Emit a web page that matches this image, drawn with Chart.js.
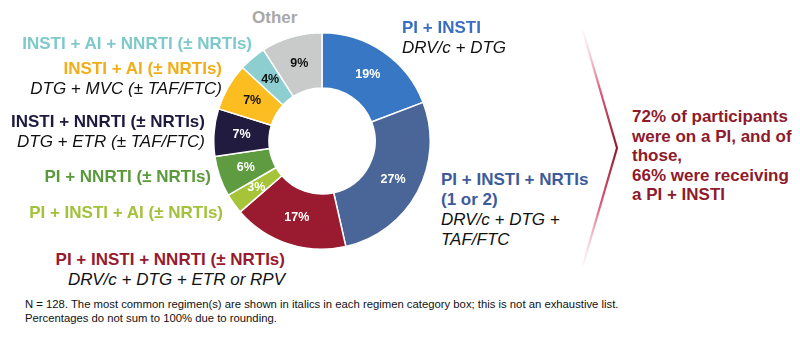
<!DOCTYPE html>
<html>
<head>
<meta charset="utf-8">
<script src="https://cdn.jsdelivr.net/npm/chart.js"></script>
<style>
    body { margin: 0; background: #fff; font-family: "Liberation Sans", Arial, sans-serif; }
    #stage { position: relative; width: 800px; height: 338px; overflow: hidden; }
    #donutBox { position: absolute; left: 213px; top: 32px; width: 218px; height: 218px; }
    .lbl { position: absolute; font-size: 17px; line-height: 20px; white-space: nowrap; }
    .lbl b { font-weight: bold; }
    .lbl i { color: #111; font-style: italic; }
    .r { text-align: right; }
    #note { position: absolute; left: 25px; top: 297px; font-size: 11.3px; line-height: 14px; color: #111; white-space: nowrap; }
    #summary { position: absolute; left: 632px; top: 107px; font-size: 17px; line-height: 19.5px; font-weight: bold; color: #8e1a2b; }
    #chevron { position: absolute; left: 0; top: 0; }
</style>
</head>
<body>
<div id="stage">
    <svg id="chevron" width="800" height="338">
        <defs>
            <linearGradient id="chevGrad" x1="0" y1="30" x2="0" y2="266" gradientUnits="userSpaceOnUse">
                <stop offset="0" stop-color="#f7c6d3" stop-opacity="0.15"/>
                <stop offset="0.25" stop-color="#e0607f"/>
                <stop offset="0.5" stop-color="#8e1a2b"/>
                <stop offset="0.75" stop-color="#e0607f"/>
                <stop offset="1" stop-color="#f7c6d3" stop-opacity="0.15"/>
            </linearGradient>
        </defs>
        <polyline points="583,31 617,148 583,265" fill="none" stroke="url(#chevGrad)" stroke-width="2.2"/>
    </svg>

    <div id="donutBox"><canvas id="regimenChart"></canvas></div>

    <div class="lbl" style="left:252px; top:8px; color:#a8a8a8;"><b>Other</b></div>
    <div class="lbl" style="left:402px; top:18px; color:#3a6fc0;"><b>PI + INSTI</b><br><i>DRV/c + DTG</i></div>
    <div class="lbl" style="left:441px; top:170px; color:#3d5b9a;"><b>PI + INSTI + NRTIs<br>(1 or 2)</b><br><i>DRV/c + DTG +<br>TAF/FTC</i></div>

    <div class="lbl r" style="right:548px; top:34px; color:#7ec9c9;"><b>INSTI + AI + NNRTI (± NRTIs)</b></div>
    <div class="lbl r" style="right:578px; top:59px; color:#f2ad1a;"><b>INSTI + AI (± NRTIs)</b><br><i>DTG + MVC (± TAF/FTC)</i></div>
    <div class="lbl r" style="right:595px; top:112px; color:#1d1a3e;"><b>INSTI + NNRTI (± NRTIs)</b><br><i>DTG + ETR (± TAF/FTC)</i></div>
    <div class="lbl r" style="right:589px; top:167px; color:#5a9a3c;"><b>PI + NNRTI (± NRTIs)</b></div>
    <div class="lbl r" style="right:577px; top:203px; color:#a3c23b;"><b>PI + INSTI + AI (± NRTIs)</b></div>
    <div class="lbl r" style="right:515px; top:250px; color:#961b2e;"><b>PI + INSTI + NNRTI (± NRTIs)</b><br><i>DRV/c + DTG + ETR or RPV</i></div>

    <div id="summary">72% of participants<br>were on a PI, and of<br>those,<br>66% were receiving<br>a PI + INSTI</div>

    <div id="note">N = 128. The most common regimen(s) are shown in italics in each regimen category box; this is not an exhaustive list.<br>Percentages do not sum to 100% due to rounding.</div>
</div>

<script>
    // --- Data ---
    const categories = [
        'PI + INSTI',
        'PI + INSTI + NRTIs (1 or 2)',
        'PI + INSTI + NNRTI (± NRTIs)',
        'PI + INSTI + AI (± NRTIs)',
        'PI + NNRTI (± NRTIs)',
        'INSTI + NNRTI (± NRTIs)',
        'INSTI + AI (± NRTIs)',
        'INSTI + AI + NNRTI (± NRTIs)',
        'Other'
    ];
    const shares = [19, 27, 17, 3, 6, 7, 7, 4, 9];
    const sliceColors = ['#3777c4', '#4a6698', '#9a1b30', '#a6c439', '#5f9b40', '#201b3f', '#fbbd1f', '#8dcfd1', '#c8cbc9'];
    const valueColors = ['#fff', '#fff', '#fff', '#fff', '#fff', '#fff', '#111', '#111', '#111'];

    // draw the % inside every slice
    const sliceValues = {
        id: 'sliceValues',
        afterDatasetsDraw(chart) {
            const ctx = chart.ctx;
            const meta = chart.getDatasetMeta(0);
            ctx.save();
            ctx.font = 'bold 12.5px "Liberation Sans", Arial, sans-serif';
            ctx.textAlign = 'center';
            ctx.textBaseline = 'middle';
            meta.data.forEach((arc, i) => {
                const pos = arc.tooltipPosition();
                ctx.fillStyle = valueColors[i];
                ctx.fillText(shares[i] + '%', pos.x, pos.y);
            });
            ctx.restore();
        }
    };

    new Chart(document.getElementById('regimenChart'), {
        type: 'doughnut',
        data: {
            labels: categories,
            datasets: [{
                data: shares,
                backgroundColor: sliceColors,
                borderColor: '#ffffff',
                borderWidth: 1.5
            }]
        },
        options: {
            responsive: true,
            maintainAspectRatio: false,
            animation: false,
            cutout: '49%',
            layout: { padding: 0 },
            plugins: {
                legend: { display: false },
                tooltip: { enabled: false }
            }
        },
        plugins: [sliceValues]
    });
</script>
</body>
</html>
